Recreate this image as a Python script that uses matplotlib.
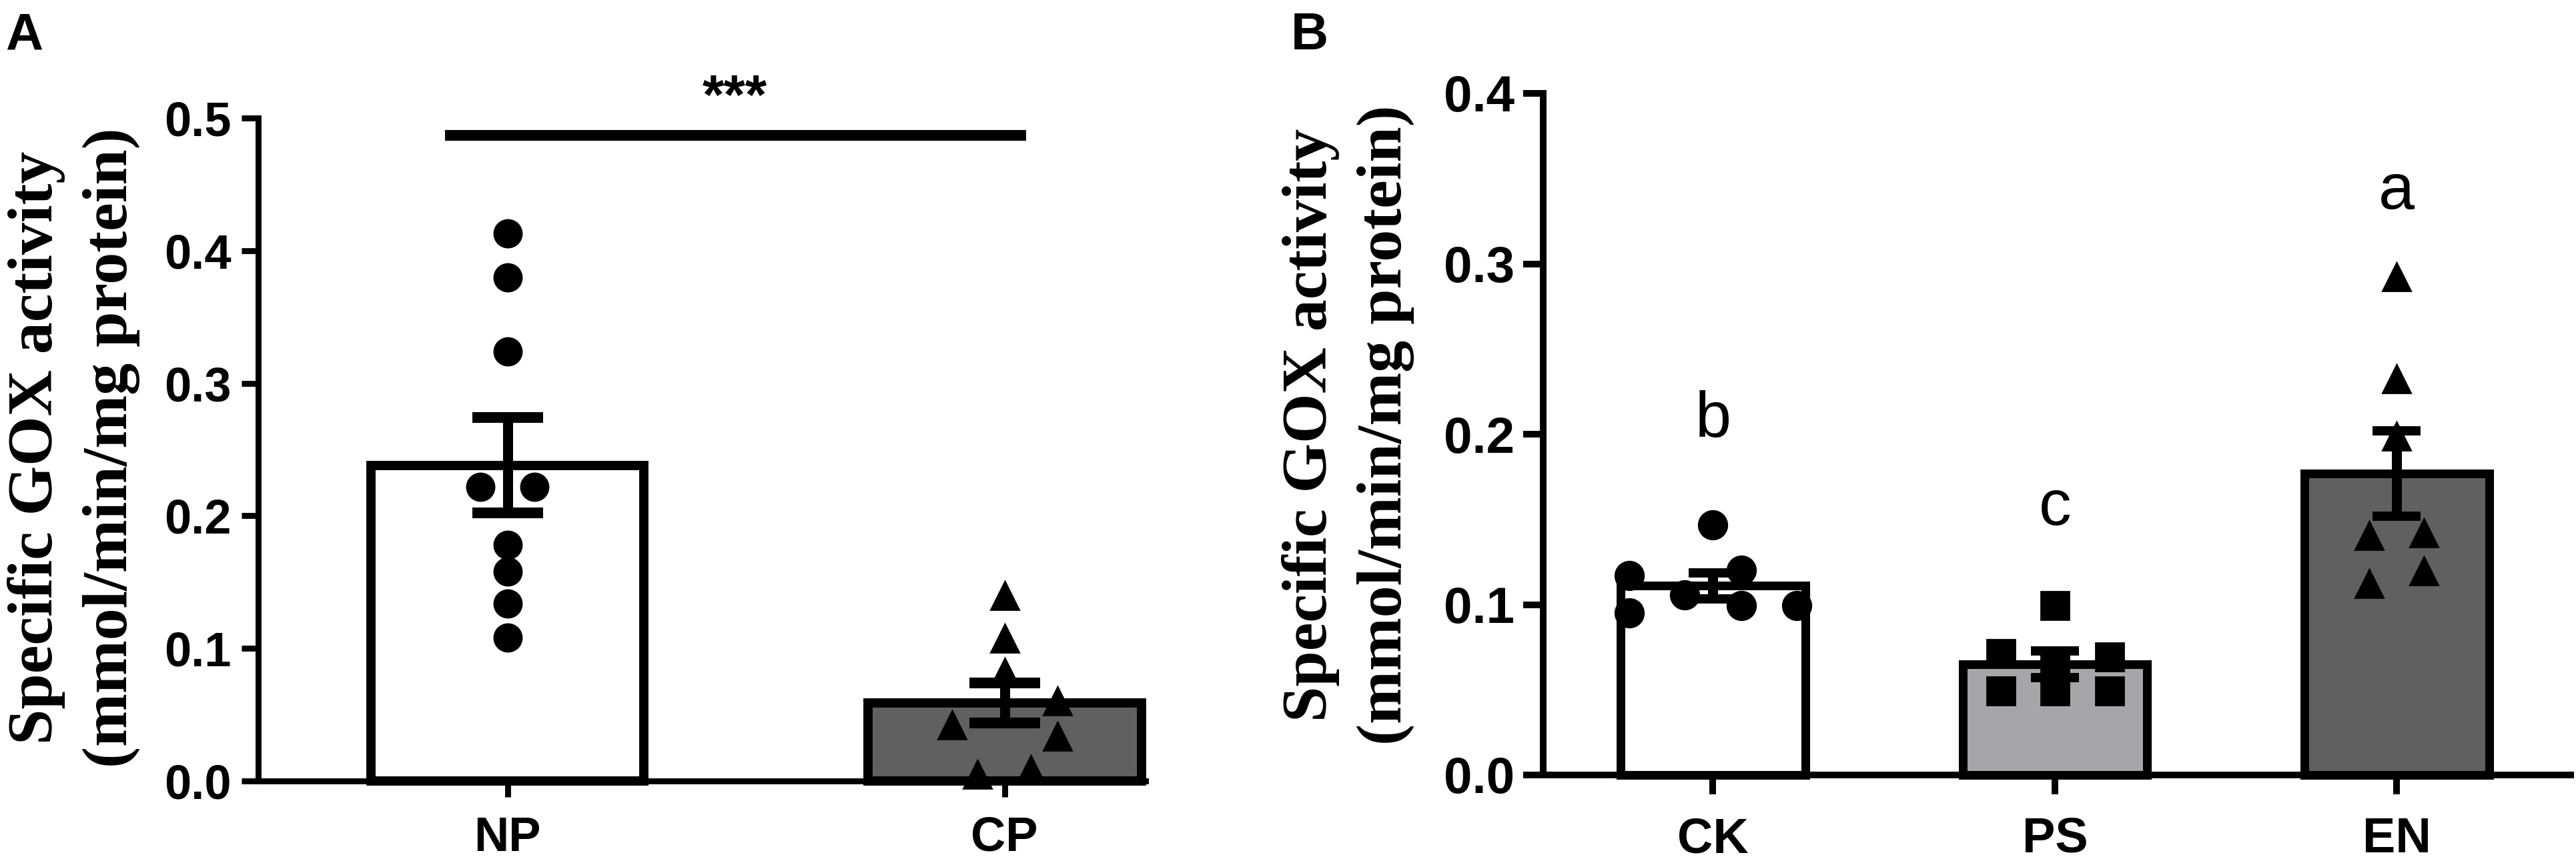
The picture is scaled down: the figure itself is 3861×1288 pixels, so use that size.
import numpy as np
import matplotlib.pyplot as plt

plt.rcParams['font.family'] = 'Liberation Sans'

# ---- panel A data ----
groups_a = ['NP', 'CP']
np_vals = [0.413, 0.380, 0.324, 0.222, 0.222, 0.178, 0.158, 0.134, 0.108]
np_dx = [0, 0, 0, -0.054, 0.054, 0, 0, 0, 0]
cp_vals = [0.140, 0.1075, 0.082, 0.0605, 0.0424, 0.0335, 0.0087, 0.005]
cp_dx = [0, 0, 0, 0.107, -0.106, 0.107, 0.053, -0.054]
means_a = [0.238, 0.059]
sems_a = [0.036, 0.015]
sig_text = '***'
sig_y = 0.487

# ---- panel B data ----
groups_b = ['CK', 'PS', 'EN']
ck_vals = [0.1467, 0.1202, 0.1169, 0.1058, 0.0993, 0.0993, 0.095]
ck_dx = [0, 0.082, -0.245, -0.083, 0.082, 0.245, -0.245]
ps_vals = [0.0993, 0.0712, 0.0693, 0.063, 0.0494, 0.0494, 0.0494]
ps_dx = [0, -0.158, 0.160, 0, -0.158, 0, 0.160]
en_vals = [0.2922, 0.2325, 0.1988, 0.1419, 0.1404, 0.1199, 0.1124]
en_dx = [0, 0, 0, 0.08, -0.08, 0.08, -0.08]
means_b = [0.111, 0.065, 0.177]
sems_b = [0.0075, 0.0078, 0.025]
letters_b = ['b', 'c', 'a']
letter_y_b = [0.1984, 0.1469, 0.3323]

W, H = 3862, 1288
DPI = 200
fig = plt.figure(figsize=(W / DPI, H / DPI), dpi=DPI)


def px_axes(left, right, top, bottom):
    return fig.add_axes([left / W, 1 - bottom / H, (right - left) / W, (bottom - top) / H])


def style_axes(ax, spine_w, ytick_len, xtick_len, ysize, xsize, ypad, xpad):
    for s in ['top', 'right']:
        ax.spines[s].set_visible(False)
    for s in ['left', 'bottom']:
        ax.spines[s].set_linewidth(spine_w)
        ax.spines[s].set_capstyle('projecting')
    ax.tick_params(axis='y', length=ytick_len, width=spine_w, pad=ypad, labelsize=ysize)
    ax.tick_params(axis='x', length=xtick_len, width=spine_w, pad=xpad, labelsize=xsize)
    for lab in ax.get_xticklabels() + ax.get_yticklabels():
        lab.set_fontweight('bold')


def ylabel2(xbase1, xbase2, ycenter):
    fig.text(xbase1 / W, 1 - ycenter / H, 'Specific GOX activity', rotation=90,
             rotation_mode='anchor', ha='center', va='baseline',
             family='Liberation Serif', weight='bold', fontsize=34.5)
    fig.text(xbase2 / W, 1 - ycenter / H, '(mmol/min/mg protein)', rotation=90,
             rotation_mode='anchor', ha='center', va='baseline',
             family='Liberation Serif', weight='bold', fontsize=34.5)


# ================= Panel A =================
axA = px_axes(387, 1717, 177, 1171)
xa = np.arange(len(groups_a))
axA.bar(xa, means_a, width=0.55, color=['white', '#606060'], edgecolor='black',
        linewidth=5.0, zorder=2, clip_on=False)
axA.plot(xa[0] + np.array(np_dx), np_vals, ls='none', marker='o', ms=14.8,
         color='black', zorder=3, clip_on=False)
axA.plot(xa[1] + np.array(cp_dx), cp_vals, ls='none', marker='^', ms=15,
         color='black', zorder=3, clip_on=False)
axA.errorbar(xa, means_a, yerr=sems_a, fmt='none', ecolor='black', elinewidth=5.4,
             capsize=19, capthick=5.8, zorder=4, clip_on=False)
axA.set_xlim(-0.5014, 1.2836)
axA.set_ylim(0, 0.5)
axA.set_yticks([0.0, 0.1, 0.2, 0.3, 0.4, 0.5])
axA.set_yticklabels(['0.0', '0.1', '0.2', '0.3', '0.4', '0.5'])
axA.set_xticks(xa)
axA.set_xticklabels(groups_a)
style_axes(axA, 3.2, 9, 8.6, 26, 26, 5.4, 10)
axA.plot([-0.126, 1.043], [sig_y, sig_y], color='black', lw=5.8,
         solid_capstyle='butt', clip_on=False)
axA.text(0.457, 0.503, sig_text, ha='center', va='baseline', fontsize=30,
         fontweight='bold', clip_on=False)
ylabel2(78, 190, 671)
fig.text(8 / W, 1 - 17 / H, 'A', ha='left', va='top', fontsize=28, fontweight='bold')

# ================= Panel B =================
axB = px_axes(2313, 3853, 140, 1162)
xb = np.arange(len(groups_b))
axB.bar(xb, means_b, width=0.54, color=['white', '#a6a6aa', '#606060'],
        edgecolor='black', linewidth=4.7, zorder=2, clip_on=False)
axB.plot(xb[0] + np.array(ck_dx), ck_vals, ls='none', marker='o', ms=15.3,
         color='black', zorder=3, clip_on=False)
axB.plot(xb[1] + np.array(ps_dx), ps_vals, ls='none', marker='s', ms=15,
         color='black', zorder=3, clip_on=False)
axB.plot(xb[2] + np.array(en_dx), en_vals, ls='none', marker='^', ms=15,
         color='black', zorder=3, clip_on=False)
axB.errorbar(xb, means_b, yerr=sems_b, fmt='none', ecolor='black', elinewidth=5.4,
             capsize=13, capthick=5.0, zorder=4, clip_on=False)
for xi, lab, ly in zip(xb, letters_b, letter_y_b):
    axB.text(xi, ly, lab, ha='center', va='baseline', fontsize=35)
axB.set_xlim(-0.4967, 2.509)
axB.set_ylim(0, 0.4)
axB.set_yticks([0.0, 0.1, 0.2, 0.3, 0.4])
axB.set_yticklabels(['0.0', '0.1', '0.2', '0.3', '0.4'])
axB.set_xticks(xb)
axB.set_xticklabels(groups_b)
style_axes(axB, 3.6, 10.8, 10.4, 27.5, 26.6, 4.7, 12)
ylabel2(1988, 2100, 637)
fig.text(1935 / W, 1 - 17 / H, 'B', ha='left', va='top', fontsize=28, fontweight='bold')

fig.savefig('out.png', dpi=DPI)
